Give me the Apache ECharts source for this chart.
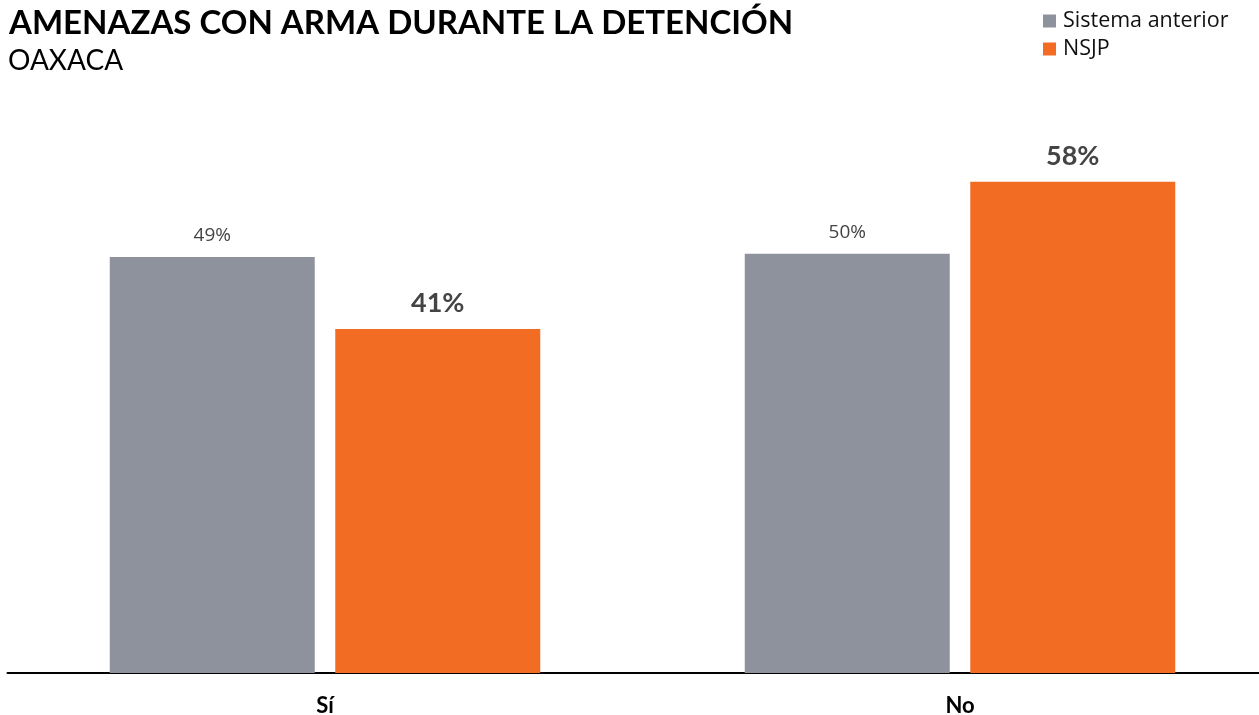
<!DOCTYPE html>
<html>
<head>
<meta charset="utf-8">
<script src="https://cdn.jsdelivr.net/npm/echarts@6/dist/echarts.min.js"></script>
<style>
  html, body { margin: 0; padding: 0; background: #fff; }
  #chart { width: 1259px; height: 715px; }
</style>
</head>
<body>
<div id="chart"></div>
<script>
const categories = ['Sí', 'No'];
const seriesNames = ['Sistema anterior', 'NSJP'];
const anterior = [49.1, 49.5];
const nsjp = [40.6, 58.0];

const gray = '#8e929d';
const orange = '#f26c23';

const chart = echarts.init(document.getElementById('chart'));

const option = {
  animation: false,
  textStyle: { fontFamily: 'Lato' },
  title: [
    {
      text: 'AMENAZAS CON ARMA DURANTE LA DETENCIÓN',
      left: 9, top: 7, padding: 0,
      textStyle: { fontFamily: 'Lato', fontWeight: 'bold', fontSize: 33, color: '#000' }
    },
    {
      text: 'OAXACA',
      left: 8, top: 47, padding: 0,
      textStyle: { fontFamily: 'Lato', fontWeight: 'normal', fontSize: 28, color: '#000' }
    }
  ],
  legend: {
    data: seriesNames,
    orient: 'vertical',
    left: 1043, top: 10, padding: 0,
    icon: 'rect',
    itemWidth: 13, itemHeight: 13,
    itemGap: 6,
    textStyle: { fontFamily: 'Open Sans', fontSize: 21.5, color: '#111', padding: [0, 0, 0, 2] }
  },
  grid: { left: 7.5, width: 1270, top: 80, bottom: 42, outerBoundsMode: 'none' },
  xAxis: {
    type: 'category',
    data: categories,
    axisLine: { lineStyle: { color: '#000', width: 2 } },
    axisTick: { show: false },
    axisLabel: {
      margin: 22,
      fontFamily: 'Lato', fontWeight: 'bold', fontSize: 22, color: '#000'
    }
  },
  yAxis: {
    type: 'value',
    min: 0, max: 70,
    show: false,
    splitLine: { show: false }
  },
  series: [
    {
      name: seriesNames[0],
      type: 'bar',
      data: anterior,
      barWidth: 205,
      barGap: '10%',
      itemStyle: { color: gray },
      label: {
        show: true, position: 'top', distance: 12,
        formatter: p => Math.round(p.value) + '%',
        fontFamily: 'Open Sans', fontSize: 19, color: '#444'
      }
    },
    {
      name: seriesNames[1],
      type: 'bar',
      data: nsjp,
      barWidth: 205,
      itemStyle: { color: orange },
      label: {
        show: true, position: 'top', distance: 12,
        formatter: p => Math.round(p.value) + '%',
        fontFamily: 'Lato', fontWeight: 'bold', fontSize: 27, color: '#444'
      }
    }
  ]
};

chart.setOption(option);
</script>
</body>
</html>
